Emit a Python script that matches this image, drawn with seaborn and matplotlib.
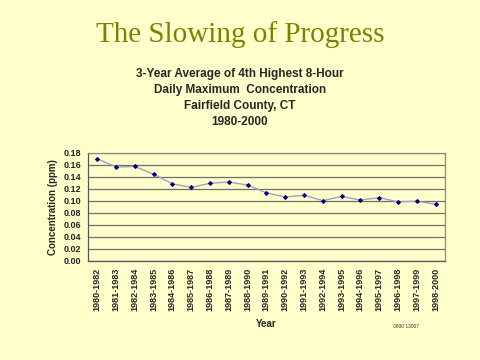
import pandas as pd
import seaborn as sns
import matplotlib.pyplot as plt
import matplotlib as mpl

# 3-yr average of 4th highest 8-hr daily max, Fairfield County CT
periods = ['1980-1982', '1981-1983', '1982-1984', '1983-1985', '1984-1986',
           '1985-1987', '1986-1988', '1987-1989', '1988-1990', '1989-1991',
           '1990-1992', '1991-1993', '1992-1994', '1993-1995', '1994-1996',
           '1995-1997', '1996-1998', '1997-1999', '1998-2000']
conc = [0.170, 0.156, 0.157, 0.144, 0.128, 0.122, 0.129, 0.131, 0.126, 0.113,
        0.106, 0.109, 0.100, 0.107, 0.101, 0.105, 0.098, 0.099, 0.094]
yticks = [0.00, 0.02, 0.04, 0.06, 0.08, 0.10, 0.12, 0.14, 0.16, 0.18]

bg = '#FFFFCC'
sns.set_style('white')
plt.rcParams['font.family'] = ['Liberation Sans', 'DejaVu Sans']

df = pd.DataFrame({'period': periods, 'conc': conc})
df['x'] = range(len(df))

fig = plt.figure(figsize=(4.8, 3.6), dpi=100, facecolor=bg)
ax = fig.add_axes([0.183, 0.276, 0.744, 0.300])
ax.set_facecolor(bg)

sns.lineplot(data=df, x='x', y='conc', ax=ax, color='#A0A0C8', lw=1.0,
             marker='D', markersize=2, markerfacecolor='#000080',
             markeredgecolor='#000080')

ax.set_xlim(-0.5, len(periods) - 0.5)
ax.set_ylim(0, 0.18)
ax.set_yticks(yticks)
ax.set_yticklabels(['%.2f' % v for v in yticks], fontsize=6.5, fontweight='bold')
ax.set_xticks(range(len(periods)))
ax.set_xticklabels(periods, rotation=90, fontsize=6.5, fontweight='bold')
ax.set_xticks([i - 0.5 for i in range(len(periods) + 1)], minor=True)
ax.tick_params(axis='x', which='major', length=0, pad=5)
ax.tick_params(axis='x', which='minor', length=3, color='#555555', width=0.8)
ax.tick_params(axis='y', length=3, color='#555555', width=0.8, pad=2)
ax.yaxis.grid(True, color='#6E6E6E', lw=0.9)
for s in ax.spines.values():
    s.set_color('#888888')
    s.set_linewidth(0.9)
ax.spines['left'].set_color('#555555')
ax.spines['bottom'].set_color('#555555')

ax.set_xlabel('Year', fontsize=7, fontweight='bold', labelpad=6)
ax.set_ylabel('Concentration (ppm)', fontsize=7, fontweight='bold', labelpad=4)

fig.text(0.5, 0.905, 'The Slowing of Progress', ha='center', va='center',
         fontsize=21, color='#808000', family='Liberation Serif')
sub = ['3-Year Average of 4th Highest 8-Hour', 'Daily Maximum  Concentration',
       'Fairfield County, CT', '1980-2000']
for i, t in enumerate(sub):
    fig.text(0.5, 0.795 - i * 0.0445, t, ha='center', va='center',
             fontsize=8.5, fontweight='bold')
fig.text(0.819, 0.09, '0800 13007', fontsize=3.5, color='#333333')

fig.savefig('out.png', dpi=100, facecolor=bg)
